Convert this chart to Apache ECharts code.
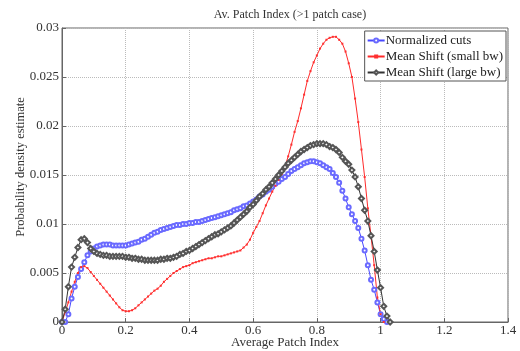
<!DOCTYPE html>
<html>
<head>
<meta charset="utf-8">
<script src="https://cdn.jsdelivr.net/npm/echarts@6/dist/echarts.min.js"></script>
<style>html,body{margin:0;padding:0;background:#fff}#c{width:520px;height:351px}</style>
</head>
<body>
<div id="c"></div>
<script>
const xValues = [0.00,0.01,0.02,0.03,0.04,0.05,0.06,0.07,0.08,0.09,
0.10,0.11,0.12,0.13,0.14,0.15,0.16,0.17,0.18,0.19,
0.20,0.21,0.22,0.23,0.24,0.25,0.26,0.27,0.28,0.29,
0.30,0.31,0.32,0.33,0.34,0.35,0.36,0.37,0.38,0.39,
0.40,0.41,0.42,0.43,0.44,0.45,0.46,0.47,0.48,0.49,
0.50,0.51,0.52,0.53,0.54,0.55,0.56,0.57,0.58,0.59,
0.60,0.61,0.62,0.63,0.64,0.65,0.66,0.67,0.68,0.69,
0.70,0.71,0.72,0.73,0.74,0.75,0.76,0.77,0.78,0.79,
0.80,0.81,0.82,0.83,0.84,0.85,0.86,0.87,0.88,0.89,
0.90,0.91,0.92,0.93,0.94,0.95,0.96,0.97,0.98,0.99,
1.00,1.01,1.02,1.03];

const normalizedCuts = [0,0,0.0008,0.0024,0.0036,0.0046,0.0054,0.0061,0.0068,0.0072,
0.0075,0.0077,0.0078,0.0079,0.0079,0.0079,0.0078,0.0078,0.0078,0.0078,
0.0078,0.0079,0.0080,0.0081,0.0082,0.0084,0.0085,0.0087,0.0089,0.0091,
0.0092,0.0094,0.0095,0.0096,0.0097,0.0098,0.0099,0.0099,0.0100,0.0100,
0.0101,0.0101,0.0102,0.0102,0.0103,0.0104,0.0105,0.0106,0.0107,0.0108,
0.0109,0.0110,0.0111,0.0112,0.0114,0.0115,0.0116,0.0118,0.0119,0.0121,
0.0123,0.0125,0.0128,0.0130,0.0133,0.0135,0.0138,0.0141,0.0143,0.0146,
0.0148,0.0151,0.0154,0.0156,0.0158,0.0160,0.0162,0.0163,0.0164,0.0164,
0.0163,0.0162,0.0160,0.0158,0.0156,0.0152,0.0148,0.0142,0.0134,0.0126,
0.0117,0.0110,0.0103,0.0096,0.0085,0.0073,0.0058,0.0043,0.0033,0.0020,
0.0008,0.0003,0];

const meanShiftSmall = [0,0.0010,0.0020,0.0031,0.0041,0.0050,0.0056,0.0057,0.0055,0.0051,
0.0047,0.0043,0.0039,0.0035,0.0031,0.0027,0.0023,0.0019,0.0015,0.0012,
0.0011,0.0011,0.0012,0.0014,0.0017,0.0020,0.0023,0.0026,0.0029,0.0032,
0.0034,0.0037,0.0041,0.0044,0.0047,0.0050,0.0052,0.0054,0.0056,0.0057,
0.0058,0.0060,0.0061,0.0062,0.0063,0.0064,0.0065,0.0065,0.0066,0.0067,
0.0067,0.0068,0.0069,0.0070,0.0071,0.0072,0.0073,0.0076,0.0079,0.0084,
0.0091,0.0097,0.0103,0.0111,0.0119,0.0126,0.0133,0.0139,0.0145,0.0151,
0.0159,0.0169,0.0181,0.0194,0.0205,0.0218,0.0232,0.0246,0.0256,0.0265,
0.0272,0.0279,0.0284,0.0288,0.0290,0.0291,0.0291,0.0288,0.0284,0.0276,
0.0264,0.0250,0.0228,0.0204,0.0176,0.0148,0.0116,0.0088,0.0058,0.0025,
0.0008,0];

const meanShiftLarge = [0,0.0013,0.0036,0.0056,0.0066,0.0076,0.0084,0.0085,0.0081,0.0075,
0.0072,0.0070,0.0069,0.0068,0.0068,0.0067,0.0067,0.0067,0.0067,0.0067,
0.0066,0.0066,0.0065,0.0065,0.0064,0.0064,0.0063,0.0063,0.0063,0.0063,
0.0063,0.0064,0.0064,0.0065,0.0065,0.0066,0.0067,0.0069,0.0070,0.0072,
0.0073,0.0075,0.0077,0.0079,0.0081,0.0083,0.0085,0.0087,0.0089,0.0090,
0.0092,0.0094,0.0096,0.0098,0.0101,0.0104,0.0107,0.0110,0.0113,0.0117,
0.0120,0.0124,0.0128,0.0131,0.0135,0.0138,0.0142,0.0146,0.0150,0.0154,
0.0158,0.0162,0.0165,0.0168,0.0171,0.0174,0.0176,0.0178,0.0180,0.0181,
0.0182,0.0182,0.0182,0.0181,0.0179,0.0178,0.0176,0.0173,0.0168,0.0164,
0.0161,0.0155,0.0148,0.0138,0.0126,0.0114,0.0103,0.0088,0.0072,0.0053,
0.0035,0.0016,0.0006,0];

const seriesNames = ['Normalized cuts','Mean Shift (small bw)','Mean Shift (large bw)'];
const xTicks = [0,0.2,0.4,0.6,0.8,1,1.2,1.4];
const yTicks = [0,0.005,0.01,0.015,0.02,0.025,0.03];

function pairs(ys){ return ys.map((y,i)=>[xValues[i], y]); }

const FONT = 'Liberation Serif';
const chart = echarts.init(document.getElementById('c'), null, {renderer:'canvas'});
chart.setOption({
  animation:false,
  backgroundColor:'#fff',
  title:{
    text:'Av. Patch Index (>1 patch case)',
    left:285, top:4, textAlign:'center',
    textStyle:{fontFamily:FONT, fontSize:12, fontWeight:'normal', color:'#333'}
  },
  graphic:[{
    type:'text', x:21, y:167, rotation:Math.PI/2,
    style:{text:'Probability density estimate', fontFamily:FONT, fontSize:12.5,
      fill:'#333', align:'center', verticalAlign:'middle'}
  },{
    type:'text', x:285, y:343,
    style:{text:'Average Patch Index', fontFamily:FONT, fontSize:13,
      fill:'#333', align:'center', verticalAlign:'middle'}
  }],
  grid:{left:62, right:12, top:28, bottom:29, containLabel:false, outerBoundsMode:'none',
        show:true, borderColor:'#666', borderWidth:1, backgroundColor:'transparent'},
  legend:{
    orient:'vertical', right:14, top:31,
    backgroundColor:'#fff', borderColor:'#555', borderWidth:1, borderRadius:0,
    padding:[3,3,2,2], itemGap:3, itemWidth:17, itemHeight:5,
    textStyle:{fontFamily:FONT, fontSize:13, color:'#222', padding:[0,0,0,-4]},
    data:seriesNames
  },
  xAxis:{
    type:'value', min:xTicks[0], max:xTicks[xTicks.length-1], interval:0.2,
    axisLine:{show:true, lineStyle:{color:'#666'}},
    axisTick:{show:true, inside:true, length:4, lineStyle:{color:'#666'}},
    axisLabel:{fontFamily:FONT, fontSize:13, color:'#333', margin:2,
      formatter:v=>String(+v.toFixed(1))},
    splitLine:{show:true, lineStyle:{color:'#bbb', type:'dotted'}}
  },
  yAxis:{
    type:'value', min:yTicks[0], max:yTicks[yTicks.length-1], interval:0.005,
    axisLine:{show:true, lineStyle:{color:'#666'}},
    axisTick:{show:true, inside:true, length:4, lineStyle:{color:'#666'}},
    axisLabel:{fontFamily:FONT, fontSize:13, color:'#333', margin:3,
      formatter:v=>String(+v.toFixed(3))},
    splitLine:{show:true, lineStyle:{color:'#bbb', type:'dotted'}}
  },
  series:[
    {name:seriesNames[0], type:'line', data:pairs(normalizedCuts),
     symbol:'emptyCircle', symbolSize:4, showAllSymbol:true,
     lineStyle:{color:'#4848ff', width:1},
     itemStyle:{color:'#6a6aff', borderColor:'#5c5cff', borderWidth:0.9}},
    {name:seriesNames[1], type:'line', data:pairs(meanShiftSmall),
     symbol:'rect', symbolSize:2, showAllSymbol:true,
     lineStyle:{color:'#ff2a2a', width:1},
     itemStyle:{color:'#ff3030'}},
    {name:seriesNames[2], type:'line', data:pairs(meanShiftLarge),
     symbol:'emptyDiamond', symbolSize:5, showAllSymbol:true,
     lineStyle:{color:'#333', width:1},
     itemStyle:{color:'#555', borderColor:'#555', borderWidth:0.9}}
  ]
});
</script>
</body>
</html>
